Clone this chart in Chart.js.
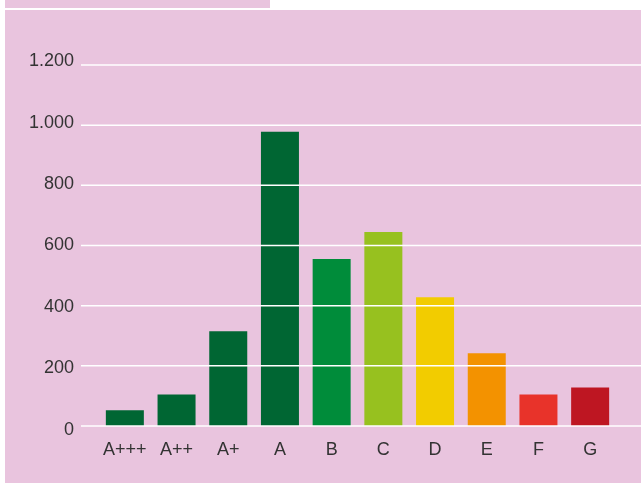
<!DOCTYPE html>
<html>
<head>
<meta charset="utf-8">
<script src="https://cdn.jsdelivr.net/npm/chart.js@4/dist/chart.umd.min.js"></script>
<style>
  html, body { margin: 0; padding: 0; background: #fff; }
  #tab { position: absolute; left: 5px; top: 0; width: 265px; height: 8px; background: #e9c4de; }
  #panel { position: absolute; left: 5px; top: 10px; width: 636px; height: 473px; background: #e9c4de; }
  #chart { display: block; }
</style>
</head>
<body>
<div id="tab"></div>
<div id="panel"><canvas id="chart" width="636" height="473"></canvas></div>
<script>
// Energy efficiency classes and counts
const classes = ["A+++", "A++", "A+", "A", "B", "C", "D", "E", "F", "G"];
const counts = [52, 105, 315, 978, 555, 645, 428, 242, 105, 128];
const barColors = ["#006633", "#006633", "#006633", "#006633", "#008c3a", "#97c11f", "#f2cc00", "#f39200", "#e8332a", "#be1622"];
const yTickValues = [0, 200, 400, 600, 800, 1000, 1200];
const yTickLabels = ["0", "200", "400", "600", "800", "1.000", "1.200"];

const C = {
  text: "#333333",
  grid: "#ffffff",
};
const FONT = "'Liberation Sans', Arial, sans-serif";

// white grid lines drawn over the bars, running out to the right edge
const overGrid = {
  id: "overGrid",
  afterDatasetsDraw(chart) {
    const y = chart.scales.y;
    const ctx = chart.ctx;
    ctx.save();
    ctx.strokeStyle = C.grid;
    ctx.lineWidth = 1.5;
    yTickValues.forEach((v) => {
      const py = y.getPixelForValue(v);
      ctx.beginPath();
      ctx.moveTo(76, py);
      ctx.lineTo(chart.width, py);
      ctx.stroke();
    });
    ctx.restore();
  },
};

new Chart(document.getElementById("chart"), {
  type: "bar",
  data: {
    labels: classes,
    datasets: [
      {
        data: counts,
        backgroundColor: barColors,
        borderWidth: 0,
        categoryPercentage: 1,
        barPercentage: 0.735,
      },
    ],
  },
  options: {
    responsive: false,
    animation: false,
    layout: { padding: { top: 55, right: 25, left: 0, bottom: 0 } },
    plugins: { legend: { display: false }, tooltip: { enabled: false } },
    scales: {
      x: {
        grid: { display: false, drawTicks: false },
        border: { display: false },
        ticks: { color: C.text, font: { family: FONT, size: 18 }, padding: 13, maxRotation: 0 },
        afterFit: (s) => { s.height = 57; },
      },
      y: {
        display: false,
        min: 0,
        max: 1200,
      },
      // label axis: the printed labels sit slightly wider apart than the grid
      yl: {
        type: "linear",
        position: "left",
        min: 12.7,
        max: 1187.3,
        grid: { display: false, drawTicks: false },
        border: { display: false },
        afterBuildTicks: (s) => { s.ticks = yTickValues.map((v) => ({ value: v })); },
        ticks: {
          autoSkip: false,
          color: C.text,
          font: { family: FONT, size: 18 },
          padding: 25,
          callback: (v, i) => yTickLabels[i],
        },
        afterFit: (s) => { s.width = 94; },
      },
    },
  },
  plugins: [overGrid],
});
</script>
</body>
</html>
